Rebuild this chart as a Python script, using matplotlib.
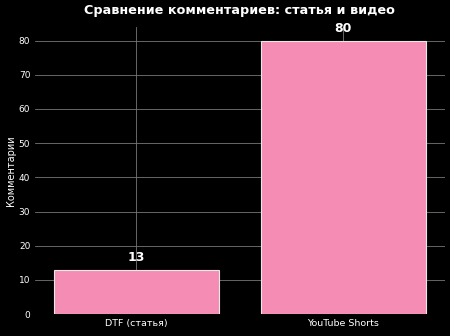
import numpy as np
import matplotlib
matplotlib.use("Agg")
import matplotlib.pyplot as plt

# dati
categorie = ["DTF (статья)", "YouTube Shorts"]
commenti = [13, 80]

plt.style.use("dark_background")
fig, ax = plt.subplots(figsize=(4.5, 3.36), dpi=100)
fig.patch.set_facecolor("black")
ax.set_facecolor("black")

bars = ax.bar(categorie, commenti, width=0.8, color="#f48cb4", edgecolor="#e8e8e8", linewidth=0.8, zorder=3)

for b, v in zip(bars, commenti):
    ax.text(b.get_x() + b.get_width() / 2, v + 1.6, str(v), ha="center", va="bottom",
            color="white", fontsize=9, fontweight="bold", zorder=4)

ax.set_title("Сравнение комментариев: статья и видео", color="white", fontsize=9.2, fontweight="bold", pad=9)
ax.set_ylabel("Комментарии", color="white", fontsize=7, labelpad=2)
ax.grid(True, color="#777777", linewidth=0.6, zorder=0)
for s in ax.spines.values():
    s.set_visible(False)
ax.tick_params(axis="y", length=0, labelsize=6.5, colors="white")
ax.tick_params(axis="x", length=0, labelsize=6.8, colors="white")
ax.set_yticks(np.arange(0, 81, 10))
ax.set_ylim(0, 84)

fig.subplots_adjust(left=0.078, right=0.988, top=0.92, bottom=0.065)
fig.savefig("out.png", dpi=100, facecolor="black")
